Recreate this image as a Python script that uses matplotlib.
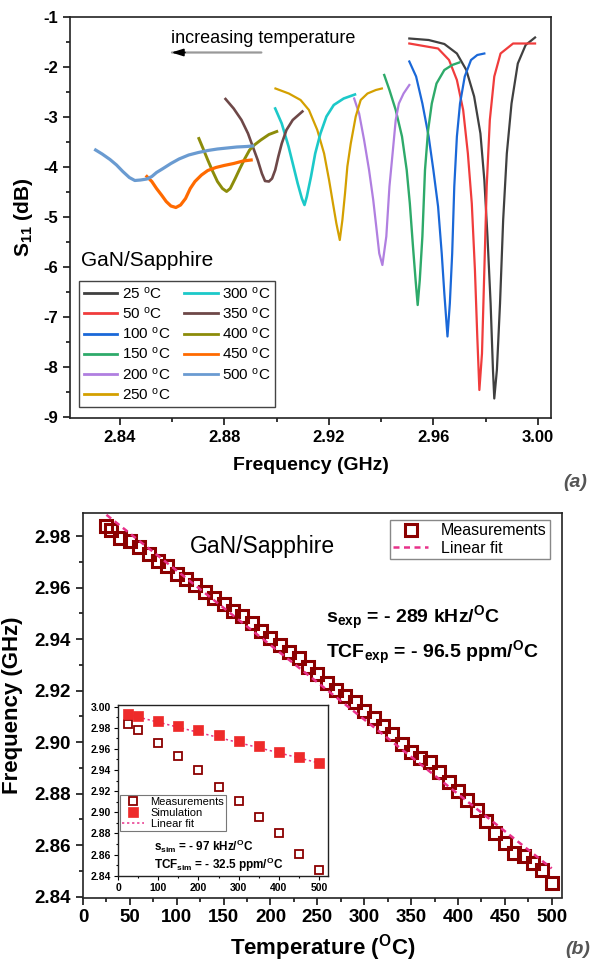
import matplotlib
matplotlib.use('Agg')
import matplotlib.pyplot as plt
from matplotlib.ticker import MultipleLocator

plt.rcParams['font.family'] = ['Liberation Sans', 'DejaVu Sans']
plt.rcParams['mathtext.fontset'] = 'custom'
plt.rcParams['mathtext.rm'] = 'Liberation Sans'
plt.rcParams['mathtext.bf'] = 'Liberation Sans:bold'
plt.rcParams['mathtext.it'] = 'Liberation Sans:italic'
plt.rcParams['axes.unicode_minus'] = False

# ---------------- (a) S11 spectra ----------------
temps_a = [25, 50, 100, 150, 200, 250, 300, 350, 400, 450, 500]
colors_a = ['#404040', '#f03c3c', '#1a68d8', '#2eaa6a', '#b07fe0', '#d4a000',
            '#1cc9c9', '#6e4848', '#8c8c0a', '#ff6a00', '#6a9bd1']

f25 = [2.9508, 2.9582, 2.9642, 2.9690, 2.9726, 2.9756, 2.9780, 2.9795, 2.9807, 2.9819,
       2.9828, 2.9833, 2.9843, 2.9855, 2.9867, 2.9881, 2.9899, 2.9923, 2.9953, 2.9989]
s25 = [-1.43, -1.46, -1.54, -1.73, -2.06, -2.59, -3.33, -4.26, -5.39, -6.73,
       -8.06, -8.63, -8.06, -6.73, -5.06, -3.73, -2.73, -1.93, -1.56, -1.41]
f50 = [2.9508, 2.9618, 2.9660, 2.9690, 2.9714, 2.9732, 2.9747, 2.9759, 2.9768, 2.9776,
       2.9786, 2.9795, 2.9804, 2.9816, 2.9833, 2.9857, 2.9905, 2.9989]
s50 = [-1.53, -1.63, -1.86, -2.26, -2.86, -3.73, -4.73, -6.06, -7.39, -8.46,
       -7.73, -6.06, -4.39, -3.06, -2.19, -1.73, -1.53, -1.53]
f100 = [2.9508, 2.9534, 2.9558, 2.9582, 2.9600, 2.9618, 2.9632, 2.9642, 2.9654, 2.9663,
        2.9672, 2.9680, 2.9690, 2.9702, 2.9720, 2.9744, 2.9768, 2.9795]
s100 = [-1.89, -2.19, -2.73, -3.39, -4.06, -4.79, -5.73, -6.53, -7.39, -6.73,
        -5.73, -4.39, -3.39, -2.73, -2.19, -1.86, -1.76, -1.73]
f150 = [2.9412, 2.9432, 2.9456, 2.9480, 2.9498, 2.9510, 2.9522, 2.9532, 2.9540, 2.9548,
        2.9558, 2.9568, 2.9580, 2.9594, 2.9612, 2.9642, 2.9672, 2.9699]
s150 = [-2.16, -2.46, -2.86, -3.39, -4.06, -4.73, -5.59, -6.26, -6.76, -6.26,
        -5.39, -4.06, -3.26, -2.73, -2.33, -2.06, -1.96, -1.91]
f200 = [2.9297, 2.9316, 2.9335, 2.9354, 2.9370, 2.9383, 2.9393, 2.9405, 2.9420, 2.9432,
        2.9444, 2.9456, 2.9468, 2.9486, 2.9508]
s200 = [-2.63, -2.93, -3.46, -4.06, -4.66, -5.26, -5.73, -5.96, -5.39, -4.39,
        -3.73, -3.06, -2.73, -2.53, -2.36]
f250 = [2.8996, 2.9047, 2.9092, 2.9124, 2.9156, 2.9182, 2.9201, 2.9216, 2.9229, 2.9242,
        2.9252, 2.9262, 2.9271, 2.9284, 2.9303, 2.9322, 2.9348, 2.9380, 2.9403]
s250 = [-2.43, -2.53, -2.66, -2.86, -3.26, -3.73, -4.26, -4.73, -5.13, -5.46,
        -5.06, -4.53, -3.99, -3.53, -2.99, -2.66, -2.53, -2.46, -2.43]
f300 = [2.8995, 2.9020, 2.9046, 2.9065, 2.9081, 2.9097, 2.9107, 2.9116, 2.9132, 2.9148,
        2.9168, 2.9191, 2.9219, 2.9257, 2.9300]
s300 = [-2.83, -3.13, -3.59, -3.99, -4.33, -4.63, -4.76, -4.59, -4.19, -3.73,
        -3.33, -2.99, -2.76, -2.63, -2.55]
f350 = [2.8805, 2.8836, 2.8866, 2.8891, 2.8909, 2.8928, 2.8944, 2.8956, 2.8971, 2.8983,
        2.8995, 2.9007, 2.9020, 2.9038, 2.9062, 2.9099]
s350 = [-2.64, -2.83, -3.06, -3.33, -3.59, -3.86, -4.13, -4.28, -4.29, -4.23,
        -4.06, -3.79, -3.53, -3.26, -3.06, -2.89]
f400 = [2.8703, 2.8719, 2.8737, 2.8756, 2.8774, 2.8793, 2.8809, 2.8823, 2.8842, 2.8860,
        2.8879, 2.8897, 2.8915, 2.8940, 2.8971, 2.9001]
s400 = [-3.43, -3.63, -3.86, -4.09, -4.29, -4.43, -4.49, -4.43, -4.23, -4.03,
        -3.83, -3.66, -3.56, -3.46, -3.35, -3.29]
f450 = [2.8504, 2.8523, 2.8541, 2.8560, 2.8578, 2.8596, 2.8615, 2.8633, 2.8652, 2.8670,
        2.8688, 2.8713, 2.8737, 2.8768, 2.8799, 2.8836, 2.8872, 2.8903]
s450 = [-4.19, -4.29, -4.43, -4.56, -4.69, -4.78, -4.81, -4.76, -4.63, -4.43,
        -4.29, -4.16, -4.07, -4.01, -3.97, -3.93, -3.88, -3.86]
f500 = [2.8308, 2.8333, 2.8363, 2.8388, 2.8412, 2.8437, 2.8458, 2.8480, 2.8504, 2.8523,
        2.8541, 2.8566, 2.8596, 2.8627, 2.8664, 2.8701, 2.8737, 2.8774, 2.8811, 2.8848,
        2.8885, 2.8909]
s500 = [-3.66, -3.74, -3.85, -3.96, -4.09, -4.21, -4.27, -4.26, -4.24, -4.19,
        -4.11, -4.03, -3.93, -3.84, -3.76, -3.71, -3.67, -3.64, -3.62, -3.60,
        -3.59, -3.58]

top_xticks = [2.84, 2.88, 2.92, 2.96, 3.00]
top_xticklabels = ['2.84', '2.88', '2.92', '2.96', '3.00']
top_yticks = [-1, -2, -3, -4, -5, -6, -7, -8, -9]
top_yticklabels = ['-1', '-2', '-3', '-4', '-5', '-6', '-7', '-8', '-9']

# ---------------- (b) frequency vs temperature ----------------
T_main = [25, 30, 40, 50, 60, 70, 80, 90, 100, 110, 120, 130, 140, 150, 160, 170,
          180, 190, 200, 210, 220, 230, 240, 250, 260, 270, 280, 290, 300, 310,
          320, 330, 340, 350, 360, 370, 380, 390, 400, 410, 420, 430, 440, 450,
          460, 470, 480, 490, 500]
f_main = [2.9839, 2.9823, 2.9794, 2.9781, 2.9757, 2.9731, 2.9705, 2.9683, 2.9654,
          2.9634, 2.9609, 2.9584, 2.9560, 2.9537, 2.9511, 2.9489, 2.9463, 2.9431,
          2.9405, 2.9379, 2.9349, 2.9327, 2.9291, 2.9265, 2.9230, 2.9204, 2.9178,
          2.9155, 2.9120, 2.9093, 2.9063, 2.9033, 2.8993, 2.8962, 2.8938, 2.8925,
          2.8886, 2.8846, 2.8810, 2.8774, 2.8735, 2.8695, 2.8649, 2.8607, 2.8571,
          2.8560, 2.8531, 2.8502, 2.8455]
fit_T = [25, 500]
fit_f = [2.9883, 2.8510]

main_xticks = [0, 50, 100, 150, 200, 250, 300, 350, 400, 450, 500]
main_yticks = [2.84, 2.86, 2.88, 2.90, 2.92, 2.94, 2.96, 2.98]

inset_T = [25, 50, 100, 150, 200, 250, 300, 350, 400, 450, 500]
inset_meas = [2.9833, 2.9779, 2.9653, 2.9533, 2.9397, 2.9243, 2.9107, 2.8959,
              2.8808, 2.8609, 2.8454]
inset_sim = [2.9931, 2.9912, 2.9868, 2.9817, 2.9779, 2.9729, 2.9678, 2.9628,
             2.9574, 2.9527, 2.9470]
sim_fit_T = [25, 510]
sim_fit_f = [2.9925, 2.9456]
inset_xticks = [0, 100, 200, 300, 400, 500]
inset_yticks = [2.84, 2.86, 2.88, 2.90, 2.92, 2.94, 2.96, 2.98, 3.00]

W, H = 603, 968
fig = plt.figure(figsize=(W / 100, H / 100), dpi=100)


def style_axis(ax, lw=1.2):
    for sp in ax.spines.values():
        sp.set_linewidth(lw)
        sp.set_color('#222222')


# ---- panel (a)
ax1 = fig.add_axes([70 / W, 1 - 418 / H, 481 / W, 401 / H])
curves = [(f25, s25), (f50, s50), (f100, s100), (f150, s150), (f200, s200), (f250, s250),
          (f300, s300), (f350, s350), (f400, s400), (f450, s450), (f500, s500)]
widths = [1.6, 1.6, 1.6, 1.7, 1.6, 1.6, 1.9, 1.9, 2.1, 2.3, 2.3]
for (fx, sy), t, c, lw in zip(curves, temps_a, colors_a, widths):
    ax1.plot(fx, sy, color=c, lw=lw, label=f'{t} $^{{\\mathrm{{o}}}}$C')

ax1.set_xlim(2.821, 3.005)
ax1.set_ylim(-9.02, -1.0)
ax1.set_xticks(top_xticks)
ax1.set_xticklabels(top_xticklabels, fontweight='bold', fontsize=12)
ax1.set_yticks(top_yticks)
ax1.set_yticklabels(top_yticklabels, fontweight='bold', fontsize=12)
ax1.xaxis.set_minor_locator(MultipleLocator(0.02))
ax1.yaxis.set_minor_locator(MultipleLocator(0.5))
ax1.tick_params(which='both', direction='out', top=False, right=False, width=1.1)
ax1.tick_params(which='major', length=5)
ax1.tick_params(which='minor', length=3)
style_axis(ax1)
ax1.set_xlabel('Frequency (GHz)', fontsize=14, fontweight='bold', labelpad=9)
ax1.set_ylabel(r'$\mathbf{S_{11}}$ (dB)', fontsize=15, fontweight='bold', labelpad=6)

leg1 = ax1.legend(loc='upper left', bbox_to_anchor=(0.0187, 0.3416), ncol=2, fontsize=11,
                  frameon=True, fancybox=False, edgecolor='#444444', framealpha=1,
                  handlelength=2.2, handletextpad=0.3, columnspacing=0.9,
                  labelspacing=0.27, borderpad=0.3, borderaxespad=0)
leg1.get_frame().set_linewidth(1.0)
for line in leg1.get_lines():
    line.set_linewidth(2.0)

ax1.text(2.8253, -5.86, 'GaN/Sapphire', fontsize=15, va='center', ha='left')
ax1.text(2.8598, -1.42, 'increasing temperature', fontsize=13, va='center', ha='left')
ax1.annotate('', xy=(2.8600, -1.71), xytext=(2.8942, -1.71),
             arrowprops=dict(arrowstyle='-', color='#999999', lw=1.6, shrinkA=0, shrinkB=0))
ax1.annotate('', xy=(2.8598, -1.71), xytext=(2.8650, -1.71),
             arrowprops=dict(arrowstyle='-|>,head_length=0.7,head_width=0.22', color='black',
                             lw=1.2, shrinkA=0, shrinkB=0))

fig.text(575 / W, 1 - 482 / H, '(a)', fontsize=14, fontweight='bold', style='italic',
         color='#555555', ha='center', va='center')

# ---- panel (b)
ax2 = fig.add_axes([83 / W, 1 - 897.5 / H, 479 / W, 384.5 / H])
ax2.plot(T_main, f_main, 's', mfc='none', mec='#8b0000', ms=9, mew=2.2,
         label='Measurements', zorder=3)
ax2.plot(fit_T, fit_f, color='#e8318a', lw=1.8, dashes=(2.4, 1.8), label='Linear fit', zorder=4)
ax2.set_xlim(0, 511)
ax2.set_ylim(2.8397, 2.989)
ax2.set_xticks(main_xticks)
ax2.set_xticklabels([str(v) for v in main_xticks], fontweight='bold', fontsize=13.5)
ax2.set_yticks(main_yticks)
ax2.set_yticklabels([f'{v:.2f}' for v in main_yticks], fontweight='bold', fontsize=13.5)
ax2.xaxis.set_minor_locator(MultipleLocator(25))
ax2.yaxis.set_minor_locator(MultipleLocator(0.01))
ax2.tick_params(which='both', direction='out', top=False, right=False, width=1.1)
ax2.tick_params(which='major', length=5)
ax2.tick_params(which='minor', length=3)
style_axis(ax2)
ax2.set_xlabel(r'Temperature ($^{\mathbf{O}}$C)', fontsize=16, fontweight='bold', labelpad=4)
ax2.set_ylabel('Frequency (GHz)', fontsize=16, fontweight='bold', labelpad=8)

leg2 = ax2.legend(loc='upper right', bbox_to_anchor=(0.975, 0.982), fontsize=11.5,
                  frameon=True, fancybox=False, edgecolor='#888888', framealpha=1,
                  handlelength=2.2, handletextpad=0.8, labelspacing=0.15,
                  borderpad=0.2, borderaxespad=0)
leg2.get_frame().set_linewidth(1.0)

ax2.text(0.2234, 0.9116, 'GaN/Sapphire', transform=ax2.transAxes, fontsize=16.5,
         va='center', ha='left')
ax2.text(0.507, 0.727, r'$\mathbf{s_{exp}}$ = - 289 kHz/$^{\mathbf{O}}$C', transform=ax2.transAxes,
         fontsize=14, fontweight='bold', va='center', ha='left')
ax2.text(0.507, 0.636, r'$\mathbf{TCF_{exp}}$ = - 96.5 ppm/$^{\mathbf{O}}$C', transform=ax2.transAxes,
         fontsize=14, fontweight='bold', va='center', ha='left')

fig.text(578 / W, 1 - 950 / H, '(b)', fontsize=14, fontweight='bold', style='italic',
         color='#555555', ha='center', va='center')

# ---- inset
axin = fig.add_axes([118 / W, 1 - 875.7 / H, 210 / W, 170.7 / H])
axin.set_zorder(5)
axin.set_facecolor('white')
axin.plot(inset_T, inset_meas, 's', mfc='white', mec='#8b0000', ms=5.5, mew=1.3,
          label='Measurements', zorder=3)
axin.plot(inset_T, inset_sim, 's', color='#ee2a2a', mec='#ee2a2a', ms=6.5, mew=0.5,
          label='Simulation', zorder=3)
axin.plot(sim_fit_T, sim_fit_f, color='#e8318a', lw=1.1, dashes=(1.5, 1.8),
          label='Linear fit', zorder=2)
axin.set_xlim(0, 522)
axin.set_ylim(2.84, 3.0015)
axin.set_xticks(inset_xticks)
axin.set_xticklabels([str(v) for v in inset_xticks], fontweight='bold', fontsize=7.5)
axin.set_yticks(inset_yticks)
axin.set_yticklabels([f'{v:.2f}' for v in inset_yticks], fontweight='bold', fontsize=7.5)
axin.xaxis.set_minor_locator(MultipleLocator(50))
axin.yaxis.set_minor_locator(MultipleLocator(0.01))
axin.tick_params(which='both', direction='out', top=False, right=False, width=0.8, pad=2)
axin.tick_params(which='major', length=3)
axin.tick_params(which='minor', length=1.5)
style_axis(axin, lw=1.0)

leg3 = axin.legend(loc='upper left', bbox_to_anchor=(0.0095, 0.4728), fontsize=8,
                   frameon=True, fancybox=False, edgecolor='#777777', framealpha=1,
                   handlelength=2.0, handletextpad=0.6, labelspacing=0.1,
                   borderpad=0.15, borderaxespad=0)
leg3.get_frame().set_linewidth(0.8)

axin.text(0.173, 0.170, r'$\mathbf{s_{sim}}$ = - 97 kHz/$^{\mathbf{O}}$C', transform=axin.transAxes,
          fontsize=8.5, fontweight='bold', va='center', ha='left')
axin.text(0.173, 0.063, r'$\mathbf{TCF_{sim}}$ = - 32.5 ppm/$^{\mathbf{O}}$C', transform=axin.transAxes,
          fontsize=8.5, fontweight='bold', va='center', ha='left')

fig.savefig('out.png', dpi=100)
